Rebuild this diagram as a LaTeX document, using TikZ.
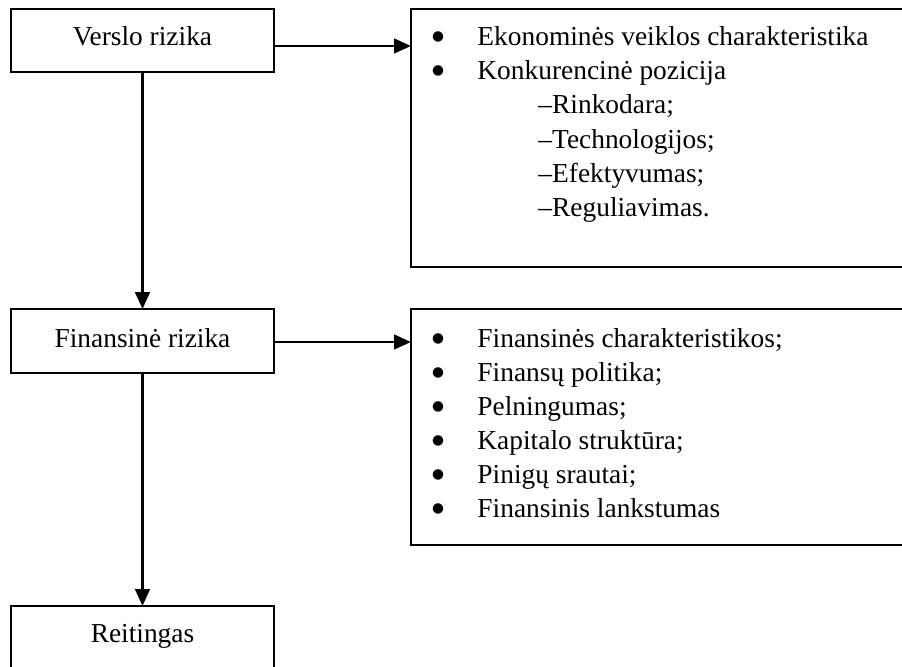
\documentclass[tikz,border=0pt]{standalone}
\usepackage{fontspec}
\setmainfont{Liberation Serif}
\newfontfamily\symfont{DejaVu Sans}
\usetikzlibrary{arrows.meta}
\begin{document}
\begin{tikzpicture}[x=0.438pt, y=-0.438pt,
  box/.style={draw, rectangle, line width=1.1pt, inner sep=0pt, outer sep=0pt},
  lbl/.style={font=\fontsize{12pt}{14.9pt}\selectfont, inner sep=0pt, anchor=base},
  item/.style={font=\fontsize{12pt}{14.9pt}\selectfont, inner sep=0pt, anchor=base west},
  dot/.style={font=\symfont\fontsize{6pt}{7pt}\selectfont, inner sep=0pt, anchor=base},
  arr/.style={line width=1.1pt, -{Triangle[length=7.4pt,width=6.4pt]}}]
\useasboundingbox (0,0) rectangle (902,666);
\clip (0,0) rectangle (902,666);

% left column: the three stages
\node[box, minimum width=115.2pt, minimum height=27.6pt] (vr) at (142.5,40.5) {};
\node[lbl] (vrt) at (142.5,46) {Verslo rizika};
\node[box, minimum width=115.2pt, minimum height=28.0pt] (fr) at (142.5,341) {};
\node[lbl] (frt) at (142.5,347) {Finansinė rizika};
\node[box, minimum width=115.2pt, minimum height=41.2pt] (rt) at (142.5,653) {};
\node[lbl] (rtt) at (142.5,642) {Reitingas};

% right column: factor lists
\node[box, minimum width=240.5pt, minimum height=113pt] (vb) at (685.5,138) {};
\node[box, minimum width=240.5pt, minimum height=103.4pt] (fb) at (685.5,427) {};

% business risk factors
\node[dot] (vd1) at (438,41) {●};
\node[item] (vi1) at (477,46) {Ekonominės veiklos charakteristika};
\node[dot] (vd2) at (438,75) {●};
\node[item] (vi2) at (477,80) {Konkurencinė pozicija};
\node[item] (vs1) at (538,114) {–Rinkodara;};
\node[item] (vs2) at (538,148) {–Technologijos;};
\node[item] (vs3) at (538,182) {–Efektyvumas;};
\node[item] (vs4) at (538,216) {–Reguliavimas.};

% financial risk factors
\foreach \t [count=\i] in {{Finansinės charakteristikos;},{Finansų politika;},{Pelningumas;},{Kapitalo struktūra;},{Pinigų srautai;},{Finansinis lankstumas}}{
  \node[dot] (fd\i) at (438,{342+34*(\i-1)}) {●};
  \node[item] (fi\i) at (477,{347+34*(\i-1)}) {\t};
}

% connectors
\coordinate (h1) at (0,46);
\coordinate (h2) at (0,342);
\draw[arr] (vr.east |- h1) -- (vb.west |- h1);
\draw[arr] (fr.east |- h2) -- (fb.west |- h2);
\draw[arr] (vr.south) -- (fr.north);
\draw[arr] (fr.south) -- (rt.north);
\end{tikzpicture}
\end{document}
